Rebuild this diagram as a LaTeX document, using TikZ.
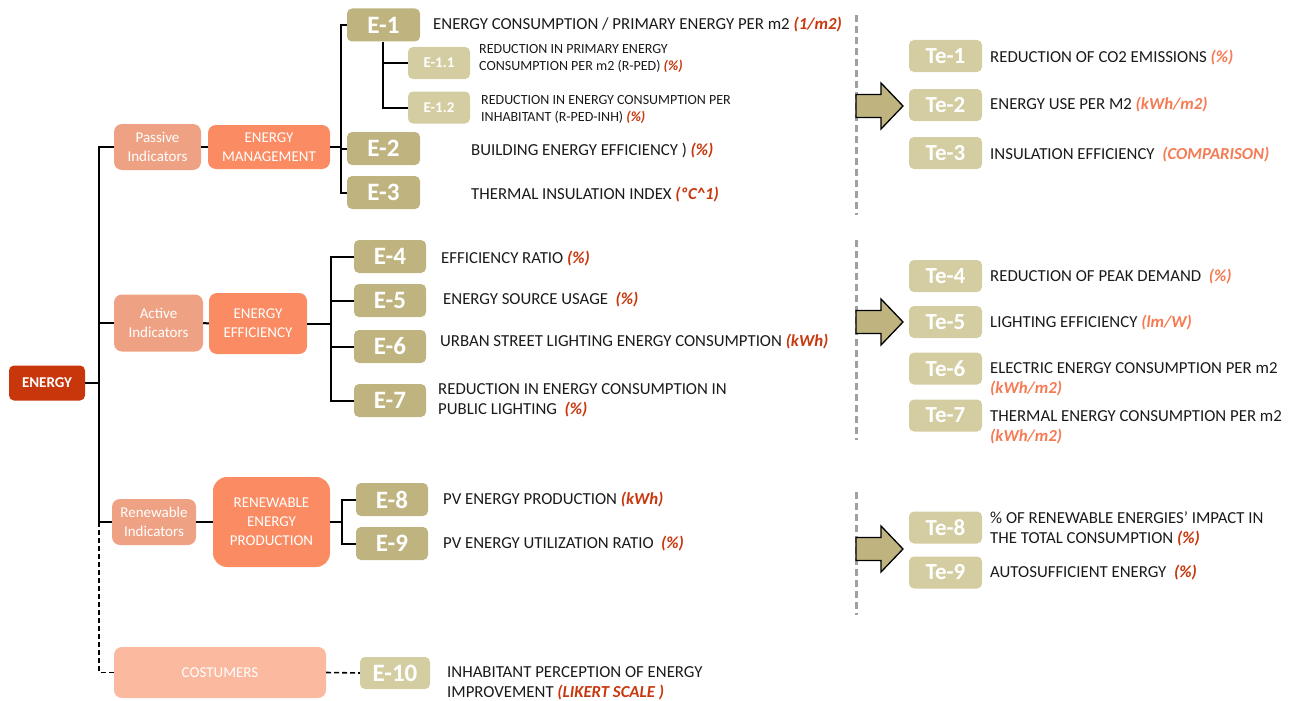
\documentclass[tikz,border=0pt]{standalone}
\usepackage{fontspec}
\setmainfont{Carlito}
\usetikzlibrary{calc}
\definecolor{cEnergy}{HTML}{C8370B}
\definecolor{cInd}{HTML}{EFA283}
\definecolor{cMg}{HTML}{FA8B62}
\definecolor{cCost}{HTML}{FBB9A0}
\definecolor{cKhaki}{HTML}{BFB47F}
\definecolor{cLight}{HTML}{D4CDA2}
\definecolor{cRed}{HTML}{C8380E}
\definecolor{cOr}{HTML}{F47B53}
\definecolor{cText}{HTML}{1A1A1A}
\definecolor{cGray}{HTML}{A0A0A0}
\newcommand\dtext{\fontsize{16.8}{20}\selectfont}
\newcommand\stext{\fontsize{14}{17}\selectfont}
\newcommand\U[1]{{\color{cRed}\bfseries\itshape #1}}
\newcommand\UT[1]{{\color{cOr}\bfseries\itshape #1}}
\begin{document}
\begin{tikzpicture}[x=1pt,y=-1pt,
  box/.style={rounded corners=5pt, text=white, inner sep=0pt, align=center},
  ebox/.style={box, fill=cKhaki, minimum width=73pt, minimum height=33pt, font=\fontsize{25}{25}\selectfont\bfseries},
  tebox/.style={box, fill=cLight, minimum width=73pt, minimum height=32pt, font=\fontsize{23}{23}\selectfont\bfseries},
  sbox/.style={box, fill=cLight, minimum width=62pt, minimum height=32pt, font=\fontsize{15}{15}\selectfont\bfseries},
  ind/.style={box, fill=cInd, rounded corners=8pt, font=\fontsize{15}{19}\selectfont},
  mg/.style={box, fill=cMg, rounded corners=8pt, font=\fontsize{15}{19}\selectfont},
  desc/.style={anchor=west, inner sep=0pt, align=left, font=\dtext, text=cText},
  sdesc/.style={anchor=west, inner sep=0pt, align=left, font=\stext, text=cText},
  conn/.style={line width=2pt, draw=black},
  dconn/.style={line width=1.6pt, draw=black, dash pattern=on 5pt off 3pt},
  gdash/.style={line width=3pt, draw=cGray, dash pattern=on 7pt off 4pt},
  blockarrow/.style={fill=cKhaki, draw=black, line width=1.3pt, line join=miter}
]
\useasboundingbox (0,0) rectangle (1295,701);

% main nodes
\node[box, fill=cEnergy, minimum width=76pt, minimum height=35pt, font=\fontsize{15}{15}\selectfont\bfseries] (energy) at (47,383) {ENERGY};
\node[ind, minimum width=87pt, minimum height=46pt] (passive) at (157.5,147) {Passive\\Indicators};
\node[mg, minimum width=122pt, minimum height=44pt] (mgmt) at (269,147) {ENERGY\\MANAGEMENT};
\node[ind, minimum width=89pt, minimum height=57pt] (active) at (158.5,323) {Active\\Indicators};
\node[mg, minimum width=98pt, minimum height=61pt] (effic) at (258,323.5) {ENERGY\\EFFICIENCY};
\node[ind, minimum width=84pt, minimum height=46pt] (renew) at (154,522) {Renewable\\Indicators};
\node[mg, rounded corners=14pt, minimum width=117pt, minimum height=90pt] (rep) at (271.5,522) {RENEWABLE\\ENERGY\\PRODUCTION};
\node[box, fill=cCost, rounded corners=8pt, minimum width=212pt, minimum height=51pt, font=\fontsize{15}{15}\selectfont] (cost) at (220,672.5) {COSTUMERS};

% E boxes
\node[ebox] (E1) at (383.5,25) {E-1};
\node[sbox] (E11) at (439,63) {E-1.1};
\node[sbox] (E12) at (439,107.5) {E-1.2};
\node[ebox] (E2) at (383.5,148.5) {E-2};
\node[ebox] (E3) at (383.5,192.5) {E-3};
\node[ebox, minimum width=72pt] (E4) at (390,256.5) {E-4};
\node[ebox, minimum width=72pt] (E5) at (390,300.5) {E-5};
\node[ebox, minimum width=72pt] (E6) at (390,346.5) {E-6};
\node[ebox, minimum width=72pt] (E7) at (390,400.5) {E-7};
\node[ebox, minimum width=72pt] (E8) at (392,499.5) {E-8};
\node[ebox, minimum width=72pt] (E9) at (392,543.5) {E-9};
\node[ebox, fill=cLight, minimum width=70pt, minimum height=32pt] (E10) at (395,673) {E-10};

% Te boxes
\node[tebox] (T1) at (945.5,56) {Te-1};
\node[tebox] (T2) at (945.5,105) {Te-2};
\node[tebox] (T3) at (945.5,153) {Te-3};
\node[tebox] (T4) at (945.5,276) {Te-4};
\node[tebox] (T5) at (945.5,322) {Te-5};
\node[tebox] (T6) at (945.5,368.5) {Te-6};
\node[tebox] (T7) at (945.5,415.5) {Te-7};
\node[tebox] (T8) at (945.5,527.5) {Te-8};
\node[tebox] (T9) at (945.5,572.5) {Te-9};

% descriptions
\node[desc] (d1) at (433,25) {ENERGY CONSUMPTION / PRIMARY ENERGY PER m2 \U{(1/m2)}};
\node[sdesc] (d11) at (479,58.5) {REDUCTION IN PRIMARY ENERGY\\CONSUMPTION PER m2 (R-PED) \U{(\%)}};
\node[sdesc] (d12) at (481,109.5) {REDUCTION IN ENERGY CONSUMPTION PER\\INHABITANT (R-PED-INH) \U{(\%)}};
\node[desc] (d2) at (471,151) {BUILDING ENERGY EFFICIENCY ) \U{(\%)}};
\node[desc] (d3) at (471,195) {THERMAL INSULATION INDEX \U{(ºC\textasciicircum1)}};
\node[desc] (d4) at (441,259) {EFFICIENCY RATIO \U{(\%)}};
\node[desc] (d5) at (443,300) {ENERGY SOURCE USAGE\ \ \U{(\%)}};
\node[desc] (d6) at (440,342) {URBAN STREET LIGHTING ENERGY CONSUMPTION \U{(kWh)}};
\node[desc] (d7) at (438,400) {REDUCTION IN ENERGY CONSUMPTION IN\\PUBLIC LIGHTING\ \ \U{(\%)}};
\node[desc] (d8) at (443,500) {PV ENERGY PRODUCTION \U{(kWh)}};
\node[desc] (d9) at (443,544) {PV ENERGY UTILIZATION RATIO\ \ \U{(\%)}};
\node[desc] (d10) at (447,683) {INHABITANT PERCEPTION OF ENERGY\\IMPROVEMENT \U{(LIKERT SCALE )}};

\node[desc] (t1) at (990,58) {REDUCTION OF CO2 EMISSIONS \UT{(\%)}};
\node[desc] (t2) at (990,105) {ENERGY USE PER M2 \UT{(kWh/m2)}};
\node[desc] (t3) at (990,155) {INSULATION EFFICIENCY\ \ \UT{(COMPARISON)}};
\node[desc] (t4) at (990,277) {REDUCTION OF PEAK DEMAND\ \ \UT{(\%)}};
\node[desc] (t5) at (990,323) {LIGHTING EFFICIENCY \UT{(lm/W)}};
\node[desc] (t6) at (990,379) {ELECTRIC ENERGY CONSUMPTION PER m2\\\UT{(kWh/m2)}};
\node[desc] (t7) at (990,427) {THERMAL ENERGY CONSUMPTION PER m2\\\UT{(kWh/m2)}};
\node[desc] (t8) at (990,529) {\% OF RENEWABLE ENERGIES' IMPACT IN\\THE TOTAL CONSUMPTION \U{(\%)}};
\node[desc] (t9) at (990,573) {AUTOSUFFICIENT ENERGY\ \ \U{(\%)}};

% connectors
\coordinate (tk) at (99,0);
\coordinate (b1) at (341,0);
\coordinate (b2) at (383,0);
\coordinate (b3) at (331,0);
\coordinate (b4) at (342,0);
\draw[conn] (passive.west) -- (passive.west -| tk) -- (renew.west -| tk) -- (renew.west);
\draw[conn] (energy.east) -- (energy.east -| tk);
\draw[conn] (active.west) -- (active.west -| tk);
\draw[dconn] (renew.west -| tk) |- (cost.west);
\draw[conn] (passive.east) -- (mgmt.west);
\draw[conn] (active.east) -- (effic.west);
\draw[conn] (renew.east) -- (rep.west);
% management bus
\draw[conn] (mgmt.east) -- (mgmt.east -| b1);
\draw[conn] (E1.west) -- (E1.west -| b1) -- (E3.west -| b1) -- (E3.west);
\draw[conn] (E2.west) -- (E2.west -| b1);
\draw[conn] (E1.south -| b2) -- (E12.west -| b2) -- (E12.west);
\draw[conn] (E11.west -| b2) -- (E11.west);
% efficiency bus
\draw[conn] (effic.east) -- (effic.east -| b3);
\draw[conn] (E4.west) -- (E4.west -| b3) -- (E7.west -| b3) -- (E7.west);
\draw[conn] (E5.west) -- (E5.west -| b3);
\draw[conn] (E6.west) -- (E6.west -| b3);
% renewable bus
\draw[conn] (rep.east) -- (rep.east -| b4);
\draw[conn] (E8.west) -- (E8.west -| b4) -- (E9.west -| b4) -- (E9.west);
% costumers
\draw[dconn] (cost.east) -- (E10.west);

% gray dashed separators
\draw[gdash] (856,15) -- (856,215);
\draw[gdash] (856,240) -- (856,440);
\draw[gdash] (856,492) -- (856,615);

% block arrows
\foreach \yc in {106,322,549} {
  \draw[blockarrow] (856,\yc-11.5) -- (881,\yc-11.5) -- (881,\yc-23) -- (903,\yc) -- (881,\yc+23) -- (881,\yc+11.5) -- (856,\yc+11.5) -- cycle;
}
\end{tikzpicture}
\end{document}
